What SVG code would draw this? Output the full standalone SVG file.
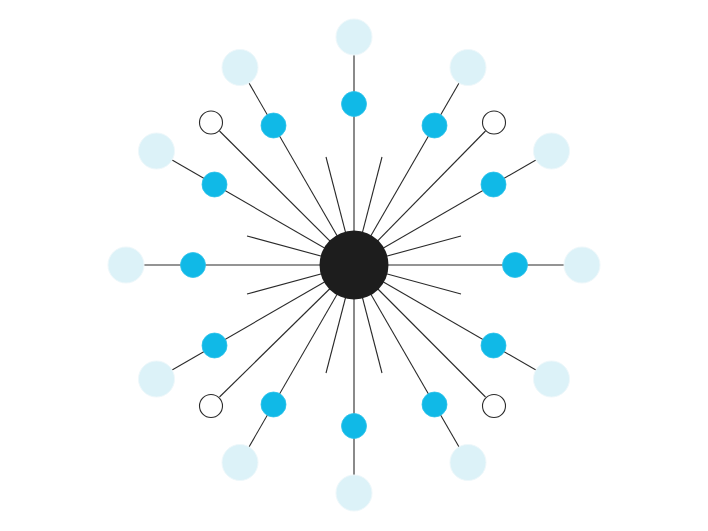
<svg xmlns="http://www.w3.org/2000/svg" width="708" height="531" viewBox="0 0 708 531">
<style>
.l{stroke:#2a2a2a;stroke-width:1.1;fill:none}
.o{fill:#dcf2f8;stroke:#eef8fb;stroke-width:1}
.b{fill:#10b9e7;stroke:#2cc2ea;stroke-width:0.8}
.h{fill:#fff;stroke:#2a2a2a;stroke-width:1.1}
</style>
<rect width="708" height="531" fill="#fff"/>
<g id="connectors">
<line class="l" x1="354" y1="265" x2="354" y2="37"/>
<line class="l" x1="354" y1="265" x2="468" y2="67.5"/>
<line class="l" x1="354" y1="265" x2="551.5" y2="151"/>
<line class="l" x1="354" y1="265" x2="582" y2="265"/>
<line class="l" x1="354" y1="265" x2="551.5" y2="379"/>
<line class="l" x1="354" y1="265" x2="468" y2="462.5"/>
<line class="l" x1="354" y1="265" x2="354" y2="493"/>
<line class="l" x1="354" y1="265" x2="240" y2="462.5"/>
<line class="l" x1="354" y1="265" x2="156.5" y2="379"/>
<line class="l" x1="354" y1="265" x2="126" y2="265"/>
<line class="l" x1="354" y1="265" x2="156.5" y2="151"/>
<line class="l" x1="354" y1="265" x2="240" y2="67.5"/>
<line class="l" x1="354" y1="265" x2="485.5" y2="131"/>
<line class="l" x1="354" y1="265" x2="485.5" y2="397"/>
<line class="l" x1="354" y1="265" x2="219.5" y2="397"/>
<line class="l" x1="354" y1="265" x2="219.5" y2="131"/>
<line class="l" x1="354" y1="265" x2="461" y2="236"/>
<line class="l" x1="354" y1="265" x2="382" y2="157"/>
<line class="l" x1="354" y1="265" x2="326" y2="157"/>
<line class="l" x1="354" y1="265" x2="247" y2="236"/>
<line class="l" x1="354" y1="265" x2="247" y2="294"/>
<line class="l" x1="354" y1="265" x2="326" y2="373"/>
<line class="l" x1="354" y1="265" x2="382" y2="373"/>
<line class="l" x1="354" y1="265" x2="461" y2="294"/>
</g>
<g id="center"><circle cx="354" cy="265" r="34.5" fill="#1d1d1d"/></g>
<g id="outer">
<circle class="o" cx="354" cy="37" r="18"/>
<circle class="o" cx="468" cy="67.5" r="18"/>
<circle class="o" cx="551.5" cy="151" r="18"/>
<circle class="o" cx="582" cy="265" r="18"/>
<circle class="o" cx="551.5" cy="379" r="18"/>
<circle class="o" cx="468" cy="462.5" r="18"/>
<circle class="o" cx="354" cy="493" r="18"/>
<circle class="o" cx="240" cy="462.5" r="18"/>
<circle class="o" cx="156.5" cy="379" r="18"/>
<circle class="o" cx="126" cy="265" r="18"/>
<circle class="o" cx="156.5" cy="151" r="18"/>
<circle class="o" cx="240" cy="67.5" r="18"/>
</g>
<g id="inner">
<circle class="b" cx="354" cy="104" r="12.5"/>
<circle class="b" cx="434.5" cy="125.5" r="12.5"/>
<circle class="b" cx="493.5" cy="184.5" r="12.5"/>
<circle class="b" cx="515" cy="265" r="12.5"/>
<circle class="b" cx="493.5" cy="345.5" r="12.5"/>
<circle class="b" cx="434.5" cy="404.5" r="12.5"/>
<circle class="b" cx="354" cy="426" r="12.5"/>
<circle class="b" cx="273.5" cy="404.5" r="12.5"/>
<circle class="b" cx="214.5" cy="345.5" r="12.5"/>
<circle class="b" cx="193" cy="265" r="12.5"/>
<circle class="b" cx="214.5" cy="184.5" r="12.5"/>
<circle class="b" cx="273.5" cy="125.5" r="12.5"/>
</g>
<g id="hollow">
<circle class="h" cx="494" cy="122.5" r="11.5"/>
<circle class="h" cx="494" cy="406" r="11.5"/>
<circle class="h" cx="211" cy="406" r="11.5"/>
<circle class="h" cx="211" cy="122.5" r="11.5"/>
</g>
</svg>
